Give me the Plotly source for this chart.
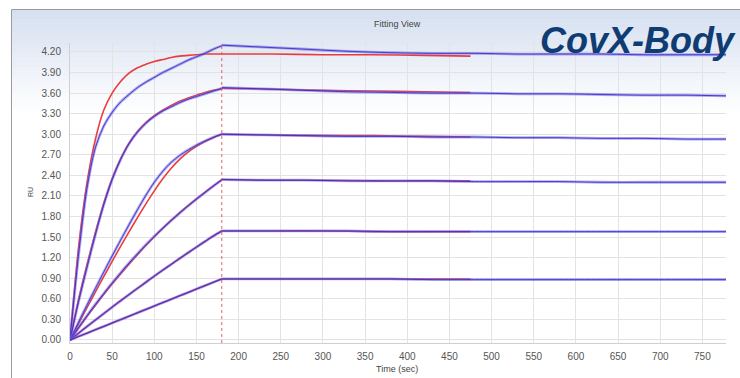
import plotly.graph_objects as go

# ---------------- data ----------------
t_assoc = [0, 10, 20, 30, 40, 50, 60, 70, 80, 90, 100, 110, 120, 130, 140, 150, 160, 170, 180]
t_diss = [180, 230, 280, 330, 380, 430, 480, 530, 580, 630, 680, 730, 780]
t_fit_diss = [180, 240, 300, 360, 420, 475]
association_end = 180

data_assoc_1 = [0, 1.22, 2.20, 2.80, 3.12, 3.32, 3.47, 3.58, 3.68, 3.76, 3.83, 3.90, 3.96, 4.02, 4.08, 4.13, 4.18, 4.24, 4.29]
data_assoc_2 = [0, 0.55, 1.05, 1.53, 1.97, 2.34, 2.63, 2.86, 3.03, 3.16, 3.26, 3.34, 3.40, 3.46, 3.51, 3.55, 3.59, 3.63, 3.67]
data_assoc_3 = [0, 0.255, 0.505, 0.750, 0.990, 1.225, 1.455, 1.680, 1.900, 2.110, 2.300, 2.460, 2.590, 2.690, 2.770, 2.840, 2.900, 2.955, 3.005]
data_assoc_4 = [0, 0.180, 0.352, 0.518, 0.678, 0.832, 0.980, 1.122, 1.258, 1.388, 1.512, 1.630, 1.742, 1.850, 1.954, 2.054, 2.150, 2.244, 2.335]
data_assoc_5 = [0, 0.098, 0.195, 0.291, 0.385, 0.479, 0.572, 0.663, 0.753, 0.842, 0.931, 1.018, 1.103, 1.188, 1.272, 1.355, 1.436, 1.516, 1.590]
data_assoc_6 = [0, 0.050, 0.099, 0.149, 0.198, 0.248, 0.297, 0.347, 0.396, 0.446, 0.495, 0.545, 0.594, 0.644, 0.693, 0.743, 0.792, 0.842, 0.890]

data_diss_1 = [4.30, 4.27, 4.24, 4.21, 4.19, 4.18, 4.18, 4.17, 4.17, 4.17, 4.16, 4.16, 4.16]
data_diss_2 = [3.68, 3.66, 3.64, 3.62, 3.61, 3.60, 3.60, 3.59, 3.59, 3.58, 3.57, 3.57, 3.56]
data_diss_3 = [3.00, 2.99, 2.98, 2.97, 2.97, 2.96, 2.96, 2.95, 2.95, 2.94, 2.94, 2.93, 2.93]
data_diss_4 = [2.34, 2.33, 2.33, 2.32, 2.32, 2.32, 2.31, 2.31, 2.31, 2.30, 2.30, 2.30, 2.30]
data_diss_5 = [1.59, 1.59, 1.59, 1.59, 1.58, 1.58, 1.58, 1.58, 1.58, 1.58, 1.58, 1.58, 1.58]
data_diss_6 = [0.89, 0.89, 0.89, 0.89, 0.89, 0.88, 0.88, 0.88, 0.88, 0.88, 0.88, 0.88, 0.88]

fit_assoc_1 = [0, 1.33, 2.28, 2.92, 3.35, 3.60, 3.77, 3.89, 3.97, 4.02, 4.06, 4.09, 4.12, 4.14, 4.15, 4.16, 4.17, 4.17, 4.17]
fit_assoc_2 = [0, 0.58, 1.09, 1.56, 1.99, 2.35, 2.64, 2.87, 3.04, 3.17, 3.27, 3.35, 3.42, 3.48, 3.53, 3.57, 3.61, 3.64, 3.66]
fit_assoc_3 = [0, 0.235, 0.468, 0.698, 0.924, 1.146, 1.364, 1.577, 1.785, 1.985, 2.175, 2.350, 2.505, 2.635, 2.740, 2.825, 2.895, 2.950, 2.995]
fit_assoc_4 = [0, 0.172, 0.341, 0.504, 0.662, 0.815, 0.963, 1.106, 1.244, 1.377, 1.505, 1.628, 1.744, 1.854, 1.958, 2.058, 2.154, 2.246, 2.335]
fit_assoc_5 = [0, 0.098, 0.195, 0.291, 0.385, 0.479, 0.572, 0.663, 0.753, 0.842, 0.931, 1.018, 1.103, 1.188, 1.272, 1.355, 1.436, 1.516, 1.590]
fit_assoc_6 = [0, 0.050, 0.099, 0.149, 0.198, 0.248, 0.297, 0.347, 0.396, 0.446, 0.495, 0.545, 0.594, 0.644, 0.693, 0.743, 0.792, 0.842, 0.890]

fit_diss_1 = [4.17, 4.17, 4.16, 4.16, 4.15, 4.14]
fit_diss_2 = [3.67, 3.66, 3.64, 3.63, 3.62, 3.61]
fit_diss_3 = [3.00, 2.99, 2.98, 2.98, 2.97, 2.96]
fit_diss_4 = [2.34, 2.33, 2.33, 2.32, 2.32, 2.32]
fit_diss_5 = [1.59, 1.59, 1.59, 1.58, 1.58, 1.58]
fit_diss_6 = [0.89, 0.89, 0.89, 0.89, 0.89, 0.89]

x_ticks = list(range(0, 751, 50))
y_ticks = [0.00, 0.30, 0.60, 0.90, 1.20, 1.50, 1.80, 2.10, 2.40, 2.70, 3.00, 3.30, 3.60, 3.90, 4.20]

data_assoc = [data_assoc_1, data_assoc_2, data_assoc_3, data_assoc_4, data_assoc_5, data_assoc_6]
data_diss = [data_diss_1, data_diss_2, data_diss_3, data_diss_4, data_diss_5, data_diss_6]
fit_assoc = [fit_assoc_1, fit_assoc_2, fit_assoc_3, fit_assoc_4, fit_assoc_5, fit_assoc_6]
fit_diss = [fit_diss_1, fit_diss_2, fit_diss_3, fit_diss_4, fit_diss_5, fit_diss_6]

# ---------------- layout geometry ----------------
W, H = 740, 378
ML, MR, MT, MB = 70, 14, 43, 35
PW, PH = W - ML - MR, H - MT - MB


def px(x):
    return (x - ML) / PW


def py(y):
    return (H - MB - y) / PH


RED = "rgba(234,50,50,0.95)"
BLUE_HALO = "rgba(110,100,235,0.55)"
BLUE_CORE = "rgba(55,40,190,0.85)"

fig = go.Figure()

# fits (red) first
for fa, fd in zip(fit_assoc, fit_diss):
    fig.add_trace(go.Scatter(x=t_assoc + [None] + t_fit_diss, y=fa + [None] + fd,
                             mode="lines", line=dict(color=RED, width=1.6, shape="spline", smoothing=0.8),
                             connectgaps=False, hoverinfo="skip", showlegend=False))
# data (blue) on top: lavender halo plus darker core
for da, dd in zip(data_assoc, data_diss):
    for col, wd in ((BLUE_HALO, 2.8), (BLUE_CORE, 1.0)):
        fig.add_trace(go.Scatter(x=t_assoc + [None] + t_diss, y=da + [None] + dd,
                                 mode="lines", line=dict(color=col, width=wd, shape="spline", smoothing=0.8),
                                 connectgaps=False, hoverinfo="skip", showlegend=False))

shapes = []
# background gradient band at top of panel
n_bands = 24
top_px, bot_px = 10, 115
c0 = (214, 224, 240)
for i in range(n_bands):
    f = i / (n_bands - 1)
    c = tuple(int(round(c0[k] + (255 - c0[k]) * f)) for k in range(3))
    y0 = top_px + (bot_px - top_px) * i / n_bands
    y1 = top_px + (bot_px - top_px) * (i + 1) / n_bands
    shapes.append(dict(type="rect", xref="paper", yref="paper", layer="below",
                       x0=px(12), x1=px(740), y0=py(y1 + 0.5), y1=py(y0),
                       fillcolor="rgb(%d,%d,%d)" % c, line=dict(width=0)))
# panel border
shapes.append(dict(type="rect", xref="paper", yref="paper", layer="below",
                   x0=px(11.5), x1=px(760), y0=py(400), y1=py(9.5),
                   fillcolor="rgba(0,0,0,0)", line=dict(color="#9a9a9a", width=1)))
# end of association marker
shapes.append(dict(type="line", xref="x", yref="paper", x0=association_end, x1=association_end,
                   y0=0, y1=0.99, line=dict(color="rgba(225,70,70,0.85)", width=1, dash="dot")))

fig.update_layout(
    width=W, height=H,
    margin=dict(l=ML, r=MR, t=MT, b=MB, pad=0),
    paper_bgcolor="white",
    plot_bgcolor="rgba(0,0,0,0)",
    shapes=shapes,
    font=dict(family="Liberation Sans, Arial, sans-serif", size=10, color="#555555"),
    xaxis=dict(range=[0, 778], tickvals=x_ticks, showgrid=True, gridcolor="#e3e3e3", gridwidth=1,
               zeroline=False, showline=True, linecolor="#d0d0d0", ticks="", tickfont=dict(size=10, color="#555555"),
               ticklabelstandoff=4),
    yaxis=dict(range=[-0.044, 4.331], tickvals=y_ticks, tickformat=".2f", showgrid=True, gridcolor="#e3e3e3",
               gridwidth=1, zeroline=False, showline=True, linecolor="#d0d0d0", ticks="",
               tickfont=dict(size=10, color="#555555"), ticklabelstandoff=6),
    annotations=[
        dict(text="Fitting View", xref="paper", yref="paper", x=px(397), y=py(24), showarrow=False,
             font=dict(size=9, color="#444444"), xanchor="center", yanchor="middle"),
        dict(text="<b><i>CovX-Body</i></b>", xref="paper", yref="paper", x=px(638), y=py(40), showarrow=False,
             font=dict(size=36, color="#0e3c73", family="Liberation Sans, Arial, sans-serif"),
             xanchor="center", yanchor="middle"),
        dict(text="Time (sec)", xref="paper", yref="paper", x=px(397), y=py(369), showarrow=False,
             font=dict(size=9, color="#444444"), xanchor="center", yanchor="middle"),
        dict(text="RU", xref="paper", yref="paper", x=px(30), y=py(192), showarrow=False, textangle=-90,
             font=dict(size=7, color="#444444"), xanchor="center", yanchor="middle"),
    ],
)

fig.write_html("out.html")
